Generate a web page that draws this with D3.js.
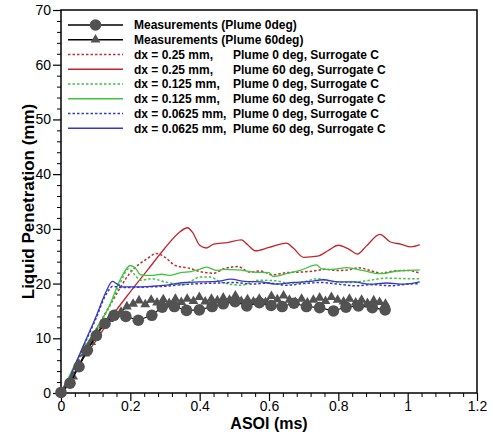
<!DOCTYPE html>
<html><head><meta charset="utf-8">
<script src="https://cdn.jsdelivr.net/npm/d3@7"></script>
<style>
html,body{margin:0;padding:0;background:#fff;}
svg{display:block;font-family:"Liberation Sans",Arial,Helvetica,sans-serif;}
</style></head>
<body><svg id="c" width="493" height="438"></svg>
<script>
// ---- data ----
const xTicks = [0, 0.2, 0.4, 0.6, 0.8, 1.0, 1.2];
const xTickLabels = ["0", "0.2", "0.4", "0.6", "0.8", "1", "1.2"];
const yTicks = [0, 10, 20, 30, 40, 50, 60, 70];
const yTickLabels = ["0", "10", "20", "30", "40", "50", "60", "70"];
const xTitle = "ASOI (ms)";
const yTitle = "Liquid Penetration (mm)";

// Measurements, Plume 0deg (circles)
const meas0X = [0,0.026,0.052,0.076,0.102,0.127,0.153,0.187,0.223,0.262,0.292,0.327,0.362,0.399,0.436,0.468,0.502,0.536,0.572,0.606,0.638,0.672,0.708,0.746,0.786,0.822,0.858,0.898,0.935];
const meas0Y = [0.1,1.8,4.8,7.8,10.5,12.7,14.2,14.0,13.3,14.2,15.7,15.8,15.1,15.2,15.8,16.3,16.7,15.9,16.5,16.0,15.8,16.4,15.8,15.6,15.0,15.7,15.9,15.6,15.2];
// Measurements, Plume 60deg (triangles)
const meas60X = [0,0.018,0.035,0.052,0.069,0.087,0.104,0.121,0.139,0.156,0.173,0.19,0.208,0.225,0.243,0.26,0.277,0.295,0.312,0.33,0.347,0.364,0.382,0.399,0.416,0.434,0.451,0.468,0.486,0.503,0.52,0.538,0.555,0.572,0.59,0.607,0.624,0.642,0.659,0.676,0.694,0.711,0.728,0.746,0.763,0.78,0.798,0.815,0.832,0.85,0.867,0.884,0.902,0.919,0.936];
const meas60Y = [0,1.5,3.0,5.2,7.2,9.3,11.0,12.3,13.5,14.3,14.8,15.8,16.3,16.9,16.2,17.0,16.5,17.1,16.4,17.2,16.6,17.2,16.8,17.5,16.7,17.2,16.9,17.4,17.0,17.8,16.8,17.1,16.7,17.2,16.6,17.7,17.1,17.8,17.0,16.6,17.2,16.5,17.0,17.4,16.8,17.5,17.0,16.7,17.2,16.5,17.0,16.4,16.9,16.6,16.3];

// dx = 0.25 mm, Plume 0 deg
const dx025p0X = [0,0.02,0.05,0.1,0.15,0.2,0.25,0.275,0.3,0.33,0.37,0.4,0.44,0.47,0.51,0.545,0.575,0.61,0.65,0.69,0.73,0.76,0.8,0.83,0.86,0.89,0.925,0.96,1.0,1.035];
const dx025p0Y = [0,2,6,11.5,17,22,24.6,25.5,24.8,23.3,22.8,22.2,21.9,22.7,23.1,22.1,22.3,21.6,22.0,22.1,22.3,22.6,22.4,22.5,22.9,22.4,21.9,22.3,22.4,21.9];
// dx = 0.25 mm, Plume 60 deg
const dx025p60X = [0,0.02,0.05,0.1,0.15,0.2,0.25,0.3,0.34,0.365,0.38,0.4,0.42,0.44,0.48,0.52,0.54,0.56,0.6,0.65,0.67,0.7,0.74,0.77,0.8,0.83,0.855,0.88,0.92,0.95,0.98,1.01,1.035];
const dx025p60Y = [0,1.5,5,9.5,14.3,18.5,22.5,26.5,29.3,30.2,29.3,27,26.5,27.2,27.5,28,27,26,26.6,27.4,26.5,24.8,25,26,27,26.3,25.4,26.8,29,27.6,27.2,26.7,27.1];
// dx = 0.125 mm, Plume 0 deg
const dx0125p0X = [0,0.02,0.05,0.1,0.14,0.17,0.195,0.21,0.23,0.26,0.3,0.35,0.38,0.4,0.43,0.46,0.52,0.57,0.62,0.66,0.7,0.74,0.78,0.83,0.88,0.94,1.0,1.035];
const dx0125p0Y = [0,2.5,6.3,11.5,15.8,20,22.7,21.8,20.6,20.9,20.3,19.8,20.6,21.2,21.2,20.3,19.7,20.6,20.5,20.0,20.3,20.9,20.4,20.2,20.5,21.0,20.9,20.9];
// dx = 0.125 mm, Plume 60 deg
const dx0125p60X = [0,0.02,0.05,0.1,0.14,0.17,0.2,0.215,0.23,0.26,0.29,0.315,0.345,0.375,0.4,0.42,0.45,0.47,0.51,0.555,0.6,0.612,0.65,0.69,0.737,0.752,0.78,0.824,0.87,0.92,0.97,1.007,1.035];
const dx0125p60Y = [0,2.5,6.5,11.5,16,20.6,23.3,22.8,21.6,21.5,21.7,21.5,22,22.2,22.6,23,22.4,22.6,22.5,22.1,22.0,21.3,21.8,22.4,23.4,22.7,22.6,22.9,22.4,21.8,22.3,22.4,22.5];
// dx = 0.0625 mm, Plume 0 deg
const dx00625p0X = [0,0.01,0.03,0.06,0.1,0.13,0.15,0.175,0.21,0.26,0.3,0.35,0.4,0.45,0.5,0.55,0.6,0.65,0.7,0.75,0.8,0.85,0.9,0.95,1.0,1.035];
const dx00625p0Y = [0,0.5,3.3,7.8,13.5,18,19.5,19.3,19.3,19.4,19.5,19.8,20.0,20.1,20.2,19.9,20.1,19.7,20.0,20.2,19.9,19.6,19.8,19.6,19.9,20.0];
// dx = 0.0625 mm, Plume 60 deg
const dx00625p60X = [0,0.01,0.03,0.06,0.1,0.13,0.148,0.16,0.175,0.21,0.26,0.305,0.355,0.4,0.45,0.49,0.53,0.575,0.62,0.67,0.72,0.757,0.8,0.845,0.89,0.94,0.99,1.035];
const dx00625p60Y = [0,0.5,3.5,8,13.8,18.5,20.4,20,19.4,19.4,19.5,19.7,20.2,20.3,20.4,20.8,20.4,20.3,19.9,20.2,20.4,20.7,20.3,20.3,19.9,20.1,19.9,20.3];

const legendDx = ["", "", "dx = 0.25 mm,", "dx = 0.25 mm,", "dx = 0.125 mm,", "dx = 0.125 mm,", "dx = 0.0625 mm,", "dx = 0.0625 mm,"];
const legendRest = ["Measurements (Plume 0deg)", "Measurements (Plume 60deg)",
  "Plume 0 deg, Surrogate C", "Plume 60 deg, Surrogate C",
  "Plume 0 deg, Surrogate C", "Plume 60 deg, Surrogate C",
  "Plume 0 deg, Surrogate C", "Plume 60 deg, Surrogate C"];

// ---- styles ----
const RED = "#c3242c", GREEN = "#3ec43e", BLUE = "#3838c4", MGRAY = "#525252";
const sims = [
  {x: dx025p0X, y: dx025p0Y, color: "#b8323c", dash: "2.5,2"},
  {x: dx025p60X, y: dx025p60Y, color: RED, dash: null},
  {x: dx0125p0X, y: dx0125p0Y, color: GREEN, dash: "2.5,2"},
  {x: dx0125p60X, y: dx0125p60Y, color: GREEN, dash: null},
  {x: dx00625p0X, y: dx00625p0Y, color: BLUE, dash: "2.5,2"},
  {x: dx00625p60X, y: dx00625p60Y, color: BLUE, dash: null}
];

const svg = d3.select("#c");
const L = 61, R = 477, T = 10, B = 393;
const x = d3.scaleLinear().domain([0, 1.2]).range([L, R]);
const y = d3.scaleLinear().domain([0, 70]).range([B, T]);

// minor ticks
const xMinor = d3.range(0, 1.2001, 0.04).filter(v => Math.abs(v / 0.2 - Math.round(v / 0.2)) > 1e-6);
const yMinor = d3.range(0, 70.001, 2).filter(v => v % 10 !== 0);

svg.append("g").attr("transform", `translate(0,${B})`)
  .call(d3.axisBottom(x).tickValues(xMinor).tickSize(4).tickFormat(""))
  .call(g => g.select(".domain").remove())
  .selectAll("line").attr("stroke", "#000").attr("stroke-width", 1);
svg.append("g").attr("transform", `translate(${L},0)`)
  .call(d3.axisLeft(y).tickValues(yMinor).tickSize(4).tickFormat(""))
  .call(g => g.select(".domain").remove())
  .selectAll("line").attr("stroke", "#000").attr("stroke-width", 1);

const xAx = svg.append("g").attr("transform", `translate(0,${B})`)
  .call(d3.axisBottom(x).tickValues(xTicks).tickSize(8).tickPadding(0)
    .tickFormat((d, i) => xTickLabels[i]));
xAx.select(".domain").remove();
xAx.selectAll("line").attr("stroke", "#000").attr("stroke-width", 1.2);
xAx.selectAll("text").attr("font-size", 14).attr("fill", "#000")
  .attr("font-family", "Liberation Sans, Arial, sans-serif");

const yAx = svg.append("g").attr("transform", `translate(${L},0)`)
  .call(d3.axisLeft(y).tickValues(yTicks).tickSize(8).tickPadding(2)
    .tickFormat((d, i) => yTickLabels[i]));
yAx.select(".domain").remove();
yAx.selectAll("line").attr("stroke", "#000").attr("stroke-width", 1.2);
yAx.selectAll("text").attr("font-size", 14).attr("fill", "#000")
  .attr("font-family", "Liberation Sans, Arial, sans-serif");

// frame
svg.append("rect").attr("x", L).attr("y", T).attr("width", R - L).attr("height", B - T)
  .attr("fill", "none").attr("stroke", "#000").attr("stroke-width", 1.5);

// simulation lines
const line = d3.line().x(d => x(d[0])).y(d => y(d[1])).curve(d3.curveMonotoneX);
sims.forEach(s => {
  svg.append("path").datum(s.x.map((v, i) => [v, s.y[i]]))
    .attr("d", line).attr("fill", "none").attr("stroke", s.color)
    .attr("stroke-width", s.dash ? 1.5 : 1.3)
    .attr("stroke-dasharray", s.dash);
});

// measurements
const lineLin = d3.line().x(d => x(d[0])).y(d => y(d[1]));
const m60 = meas60X.map((v, i) => [v, meas60Y[i]]);
const m0 = meas0X.map((v, i) => [v, meas0Y[i]]);
svg.append("path").datum(m60).attr("d", lineLin).attr("fill", "none").attr("stroke", "#000").attr("stroke-width", 1.1);
const tri = d3.symbol().type(d3.symbolTriangle).size(42);
svg.append("g").selectAll("path").data(m60).join("path")
  .attr("transform", d => `translate(${x(d[0])},${y(d[1])})`).attr("d", tri).attr("fill", MGRAY);
svg.append("path").datum(m0).attr("d", lineLin).attr("fill", "none").attr("stroke", "#000").attr("stroke-width", 1.1);
svg.append("g").selectAll("circle").data(m0).join("circle")
  .attr("cx", d => x(d[0])).attr("cy", d => y(d[1])).attr("r", 5.8).attr("fill", MGRAY);

// axis titles
svg.append("text").attr("x", (L + R) / 2).attr("y", 429).attr("text-anchor", "middle")
  .attr("font-size", 16).attr("font-weight", "bold").text(xTitle);
svg.append("text").attr("transform", `translate(34,${(T + B) / 2}) rotate(-90)`)
  .attr("text-anchor", "middle").attr("font-size", 17).attr("font-weight", "bold").text(yTitle);

// legend
const lx0 = 68, lx1 = 123, ltx = 134, ly0 = 25, lstep = 14.75, plumeX = 233;
const legendStyles = [
  {color: "#000", dash: null, marker: "circle"},
  {color: "#000", dash: null, marker: "tri"},
  {color: "#b8323c", dash: "2.5,2"},
  {color: RED, dash: null},
  {color: GREEN, dash: "2.5,2"},
  {color: GREEN, dash: null},
  {color: BLUE, dash: "2.5,2"},
  {color: BLUE, dash: null}
];
const lg = svg.append("g");
legendStyles.forEach((st, i) => {
  const yy = ly0 + i * lstep;
  lg.append("line").attr("x1", lx0).attr("x2", lx1).attr("y1", yy).attr("y2", yy)
    .attr("stroke", st.color).attr("stroke-width", st.dash ? 1.5 : 1.3).attr("stroke-dasharray", st.dash);
  if (st.marker === "circle") lg.append("circle").attr("cx", (lx0 + lx1) / 2).attr("cy", yy).attr("r", 5.8).attr("fill", MGRAY);
  if (st.marker === "tri") lg.append("path").attr("transform", `translate(${(lx0 + lx1) / 2},${yy})`).attr("d", tri).attr("fill", MGRAY);
  let restX = ltx;
  if (legendDx[i]) {
    const t = lg.append("text").attr("x", ltx).attr("y", yy + 4.3).attr("font-size", 12).attr("font-weight", "bold").text(legendDx[i]);
    const w = t.node().getComputedTextLength();
    restX = Math.max(plumeX, ltx + w + 4);
  }
  lg.append("text").attr("x", restX).attr("y", yy + 4.3).attr("font-size", 12).attr("font-weight", "bold").text(legendRest[i]);
});
</script></body></html>
